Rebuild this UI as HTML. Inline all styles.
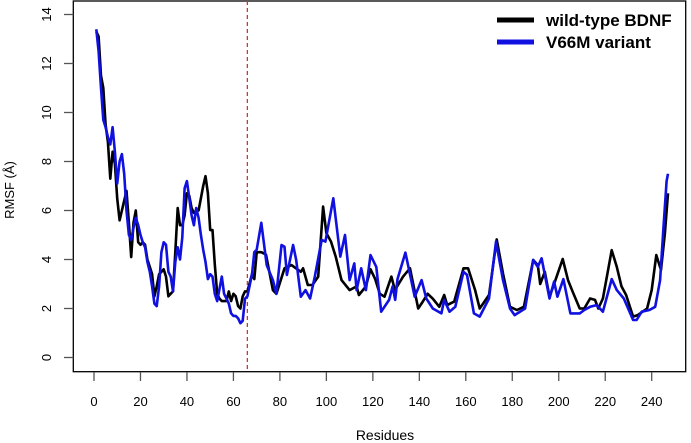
<!DOCTYPE html>
<html><head><meta charset="utf-8"><style>
body{margin:0;background:#fff;}
svg{display:block;font-family:"Liberation Sans",sans-serif;}
</style></head><body>
<svg id="chart" width="691" height="443" viewBox="0 0 691 443">
<rect x="73.3" y="1" width="612.4" height="370.7" fill="none" stroke="#000" stroke-width="1.3"/>
<g id="axes"></g>
<line id="vline" y1="1" y2="371.7" stroke="#d9312b" stroke-width="1.3" stroke-dasharray="4,3"/>
<g id="series"></g>
<g>
<line x1="497" y1="20" x2="534" y2="20" stroke="#000" stroke-width="5"/>
<text x="546" y="26" font-size="17" font-weight="bold">wild-type BDNF</text>
<line x1="497" y1="42" x2="534" y2="42" stroke="#1010e0" stroke-width="5"/>
<text x="546" y="48" font-size="17" font-weight="bold">V66M variant</text>
</g>
<text x="385" y="440" font-size="14" text-anchor="middle">Residues</text>
<text transform="translate(14,190) rotate(-90)" font-size="13" text-anchor="middle">RMSF (Å)</text>
</svg>
<script>
const xTicks=[0,20,40,60,80,100,120,140,160,180,200,220,240];
const yTicks=[0,2,4,6,8,10,12,14];
const markerResidue=66;
const wtRes=[1,2,3,4,5,6,7,8,9,10,11,12,13,14,15,16,17,18,19,20,21,22,23,24,25,26,27,28,29,30,31,32,33,34,35,36,37,38,39,40,41,42,43,44,45,46,47,48,49,50,51,52,53,54,55,56,57,58,59,60,61,62,63,64,65,66,68,69,70,72,74,77,78.5,82,85,89,90,92,94,96.5,98.6,100,102,104,106.5,110,113,114,117,119,121,123,125,126.5,128,129.5,133,136,137,139.5,141.5,143.6,145.8,148.6,150.7,152,155,159,161,164,166,170,173.3,176,179,182,185,189,191,192,194,196,198,201.7,204,206,209,211,213.5,215.6,217,219,222.8,225,227,229,232,234,238,240,242,244,245.7,247];
const wtVal=[13.3,13.1,11.5,11.0,9.5,8.8,7.3,8.4,7.9,6.5,5.6,6.0,6.4,6.8,5.5,4.1,5.5,6.0,4.7,4.6,4.7,4.6,4.0,3.7,3.4,2.5,2.9,3.4,3.5,3.6,3.3,2.5,2.6,2.7,4.3,6.1,5.4,5.4,5.8,6.7,6.6,6.1,5.9,6.0,6.0,6.5,7.0,7.4,6.7,5.2,5.2,3.8,2.6,2.4,2.3,2.3,2.3,2.7,2.3,2.6,2.5,2.1,2.0,2.5,2.7,2.7,3.4,3.2,4.3,4.3,4.2,2.75,2.6,3.64,3.77,3.5,3.64,2.96,2.96,3.3,6.16,5.07,4.73,4.12,3.16,2.75,2.9,2.55,2.9,3.6,3.2,2.6,2.48,2.9,3.3,2.75,3.3,3.64,3.16,2.0,2.28,2.6,2.4,2.07,2.55,2.14,2.28,3.64,3.64,2.75,2.0,2.55,4.82,3.43,2.07,1.94,2.07,3.98,3.77,3.0,3.5,2.48,3.0,4.02,3.16,2.68,2.0,2.0,2.41,2.35,2.0,2.41,4.38,3.7,2.9,2.55,1.67,1.73,2.0,2.75,4.18,3.57,5.07,6.7];
const vmRes=[1,2,3,4,5,6,7,8,9,10,11,12,13,14,15,16,17,18,19,20,21,22,23,24,25,26,27,28,29,30,31,32,33,34,35,36,37,38,39,40,41,42,43,44,45,46,47,48,49,50,51,52,53,54,55,56,57,58,59,60,61,62,63,64,65,66,68,69,70,72,74.3,77,78.5,80.7,82,83,85.7,87,89,91,93,95,98,99.6,103,106,108,110,112,113,115,117,119,121.5,123.6,127,128.5,129.6,130.6,134,138,141,143,145.8,149.5,150.7,153,155.5,159,160.5,163.5,166,170,173,176,179,181,185.5,189,191,192.6,196,198,199.4,202,205,209,211,213.5,216.3,219,222.8,225,228,232,233.5,235.7,239,241.5,243.6,245,246.4,247];
const vmVal=[13.4,12.5,11.0,9.7,9.4,9.0,8.7,9.4,8.4,7.1,8.0,8.3,7.5,6.0,5.0,4.8,5.3,5.7,5.4,5.0,4.7,4.5,3.9,3.5,2.9,2.2,2.1,2.9,4.3,4.7,4.6,3.5,3.3,2.7,3.9,4.5,4.0,4.9,6.9,7.2,6.5,5.8,5.4,6.1,5.7,5.0,4.4,3.9,3.2,3.4,3.3,2.6,2.3,2.8,3.3,2.6,2.4,2.2,1.8,1.7,1.7,1.6,1.4,1.5,2.4,2.5,3.4,4.3,4.4,5.5,3.77,3.16,2.6,4.59,4.52,3.37,4.59,3.98,2.48,2.75,2.41,3.3,4.8,4.73,6.5,4.12,5.0,3.16,3.84,2.75,3.64,2.75,4.18,3.7,1.87,2.35,2.9,2.35,3.2,4.28,2.48,3.16,2.41,2.0,1.8,2.35,1.87,2.07,3.5,3.37,1.8,1.67,2.41,4.73,3.16,2.0,1.73,2.0,3.98,3.7,4.05,2.41,3.1,2.48,3.2,1.8,1.8,1.94,2.07,2.14,1.87,3.2,2.75,2.41,1.53,1.53,1.87,1.94,2.07,3.16,5.2,7.2,7.5];
const NS='http://www.w3.org/2000/svg';
const xs=r=>94+r*(557.7/240);
const ys=v=>357.5-v*24.5;
const axes=document.getElementById('axes');
function mk(tag,attrs,parent){const e=document.createElementNS(NS,tag);for(const k in attrs)e.setAttribute(k,attrs[k]);parent.appendChild(e);return e;}
xTicks.forEach(t=>{
  const l=mk('line',{x1:xs(t),x2:xs(t),y1:372,y2:381,stroke:'#555','stroke-width':1.3},axes);
  
  
  const tx=mk('text',{x:xs(t),y:406,'font-size':13,'text-anchor':'middle'},axes);
  
  
  tx.textContent=t;
});
yTicks.forEach(t=>{
  const l=mk('line',{x1:64,x2:73.3,y1:ys(t),y2:ys(t),stroke:'#555','stroke-width':1.3},axes);
  
  
  const tx=mk('text',{transform:`translate(51,${ys(t)}) rotate(-90)`,'font-size':13,'text-anchor':'middle'},axes);
  
  
  tx.textContent=t;
});
const vl=document.getElementById('vline');
vl.setAttribute('x1',xs(markerResidue));vl.setAttribute('x2',xs(markerResidue));
const g=document.getElementById('series');
function line(rs,vs,color,name){
  const p=mk('polyline',{points:rs.map((r,i)=>xs(r).toFixed(1)+','+ys(vs[i]).toFixed(1)).join(' '),fill:'none',stroke:color,'stroke-width':2.6,'stroke-linejoin':'round'},g);
  
  
}
line(wtRes,wtVal,'#000','wild-type-line');
line(vmRes,vmVal,'#1010e0','v66m-line');
</script>
</body></html>
